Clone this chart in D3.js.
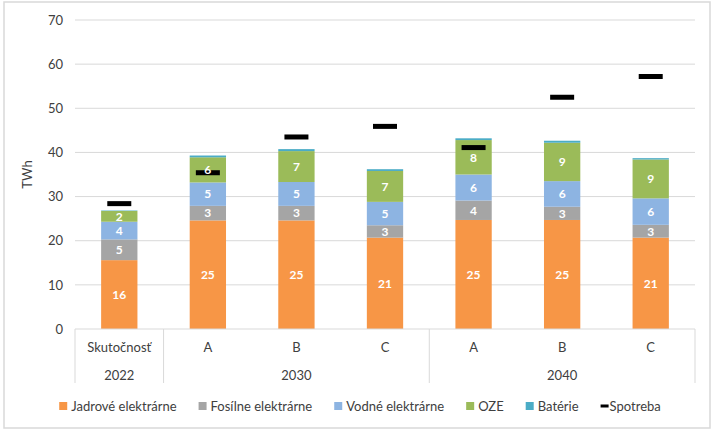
<!DOCTYPE html>
<html>
<head>
<meta charset="utf-8">
<script src="https://cdn.jsdelivr.net/npm/d3@7"></script>
<style>
  body { margin: 0; background: #fff; }
  svg text { font-family: Lato, "Open Sans", sans-serif; }
</style>
</head>
<body>
<div id="chart"></div>
<script>
// data (TWh)
var categories = ["Skutočnosť", "A", "B", "C", "A", "B", "C"];
var years = ["2022", "2030", "2040"];
var yearSpan = [1, 3, 3];

var jadrove  = [15.6, 24.6, 24.6, 20.7, 24.7, 24.7, 20.7];
var fosilne  = [4.7, 3.3, 3.3, 2.8, 4.4, 3.0, 2.9];
var vodne    = [4.0, 5.3, 5.4, 5.3, 5.9, 5.8, 6.0];
var oze      = [2.45, 5.7, 7.0, 7.0, 7.8, 8.7, 8.8];
var baterie  = [0.1, 0.4, 0.45, 0.4, 0.4, 0.45, 0.3];
var spotreba = [28.4, 35.4, 43.5, 45.9, 41.1, 52.5, 57.2];

var seriesNames = ["Jadrové elektrárne", "Fosílne elektrárne", "Vodné elektrárne", "OZE", "Batérie"];
var seriesColors = ["#F79646", "#A5A5A5", "#8DB4E2", "#9BBB59", "#4BACC6"];
var yTicks = [0, 10, 20, 30, 40, 50, 60, 70];

var width = 715, height = 431;
var margin = {top: 20, right: 20, bottom: 102, left: 75};

var svg = d3.select("#chart")
    .append("svg")
    .attr("width", width)
    .attr("height", height);

// chart frame
svg.append("rect")
    .attr("x", 4).attr("y", 2)
    .attr("width", 706).attr("height", 426)
    .attr("fill", "none")
    .attr("stroke", "#D9D9D9")
    .attr("stroke-width", 1.5);

var x = d3.scaleBand()
    .domain(d3.range(categories.length))
    .range([margin.left, width - margin.right])
    .paddingInner(0.59)
    .paddingOuter(0.295);

var y = d3.scaleLinear()
    .domain([0, 70])
    .range([height - margin.bottom, margin.top]);

// gridlines
svg.append("g")
    .selectAll("line")
    .data(yTicks.slice(1))
    .enter()
    .append("line")
    .attr("x1", margin.left).attr("x2", width - margin.right)
    .attr("y1", function(d) { return y(d); })
    .attr("y2", function(d) { return y(d); })
    .attr("stroke", "#D9D9D9")
    .attr("stroke-width", 1);

// y axis labels
var yAxis = d3.axisLeft(y).tickValues(yTicks).tickSize(0).tickPadding(12);
svg.append("g")
    .attr("transform", "translate(" + margin.left + ",0)")
    .call(yAxis)
    .call(function(g) { g.select(".domain").remove(); })
    .selectAll("text")
    .attr("font-size", 13)
    .attr("fill", "#404040")
    .style("font-family", "Lato, sans-serif");

svg.append("text")
    .attr("transform", "translate(32," + y(35) + ") rotate(-90)")
    .attr("text-anchor", "middle")
    .attr("font-size", 13)
    .attr("fill", "#404040")
    .text("TWh");

// stacked data
var table = categories.map(function(c, i) {
    return {i: i, j: jadrove[i], f: fosilne[i], v: vodne[i], o: oze[i], b: baterie[i]};
});
var keys = ["j", "f", "v", "o", "b"];
var stacked = d3.stack().keys(keys)(table);

var layers = svg.append("g")
    .selectAll("g")
    .data(stacked)
    .enter()
    .append("g")
    .attr("fill", function(d, k) { return seriesColors[k]; });

layers.selectAll("rect")
    .data(function(d) { return d; })
    .enter()
    .append("rect")
    .attr("x", function(d) { return x(d.data.i); })
    .attr("width", x.bandwidth())
    .attr("y", function(d) { return y(d[1]); })
    .attr("height", function(d) { return y(d[0]) - y(d[1]); });

// x axis baseline
var base = y(0);
svg.append("line")
    .attr("x1", margin.left).attr("x2", width - margin.right)
    .attr("y1", base).attr("y2", base)
    .attr("stroke", "#D9D9D9");

// spotreba markers
svg.append("g")
    .selectAll("rect")
    .data(spotreba)
    .enter()
    .append("rect")
    .attr("x", function(d, i) { return x(i) + x.bandwidth() / 2 - 12; })
    .attr("y", function(d) { return y(d) - 2.5; })
    .attr("width", 24)
    .attr("height", 5)
    .attr("fill", "#000");

// value labels (not for batérie)
stacked.slice(0, 4).forEach(function(layer) {
    svg.append("g")
        .selectAll("text")
        .data(layer)
        .enter()
        .append("text")
        .attr("x", function(d) { return x(d.data.i) + x.bandwidth() / 2; })
        .attr("y", function(d) { return (y(d[0]) + y(d[1])) / 2; })
        .attr("dy", "0.36em")
        .attr("text-anchor", "middle")
        .attr("font-size", 12)
        .attr("font-weight", "bold")
        .attr("fill", "#fff")
        .text(function(d) { return Math.round(d[1] - d[0]); });
});

// category axis, two tiers
var step = x.step();
var x0 = x.range()[0];
svg.append("g")
    .selectAll("text")
    .data(categories)
    .enter()
    .append("text")
    .attr("x", function(d, i) { return x(i) + x.bandwidth() / 2; })
    .attr("y", base + 23)
    .attr("text-anchor", "middle")
    .attr("font-size", 13)
    .attr("fill", "#404040")
    .text(function(d) { return d; });

var cum = 0;
var bounds = [0];
yearSpan.forEach(function(s) { cum += s; bounds.push(cum); });

svg.append("g")
    .selectAll("line")
    .data(bounds)
    .enter()
    .append("line")
    .attr("x1", function(d) { return x0 + d * step; })
    .attr("x2", function(d) { return x0 + d * step; })
    .attr("y1", base).attr("y2", base + 54)
    .attr("stroke", "#D9D9D9");

svg.append("g")
    .selectAll("text")
    .data(years)
    .enter()
    .append("text")
    .attr("x", function(d, k) { return x0 + (bounds[k] + bounds[k + 1]) / 2 * step; })
    .attr("y", base + 51)
    .attr("text-anchor", "middle")
    .attr("font-size", 13)
    .attr("fill", "#404040")
    .text(function(d) { return d; });

// legend
var legend = svg.append("g").attr("transform", "translate(0,406)");
var legendItems = seriesNames.concat(["Spotreba"]);
var lx = 0;
var items = legend.selectAll("g")
    .data(legendItems)
    .enter()
    .append("g");

items.each(function(d, k) {
    var g = d3.select(this);
    if (k < seriesNames.length) {
        g.append("rect")
            .attr("x", 0).attr("y", -4)
            .attr("width", 8).attr("height", 8)
            .attr("fill", seriesColors[k]);
    } else {
        g.append("rect")
            .attr("x", 0).attr("y", -1.5)
            .attr("width", 8).attr("height", 3)
            .attr("fill", "#000");
    }
    var t = g.append("text")
        .attr("x", k < seriesNames.length ? 12 : 9)
        .attr("dy", "0.35em")
        .attr("font-size", 13)
        .attr("fill", "#404040")
        .text(d);
    var w = t.node().getComputedTextLength() + (k < seriesNames.length ? 12 : 9);
    g.attr("transform", "translate(" + lx + ",0)");
    lx += w + 22;
});
var legendWidth = lx - 22;
legend.attr("transform", "translate(" + (360 - legendWidth / 2) + ",406)");
</script>
</body>
</html>
